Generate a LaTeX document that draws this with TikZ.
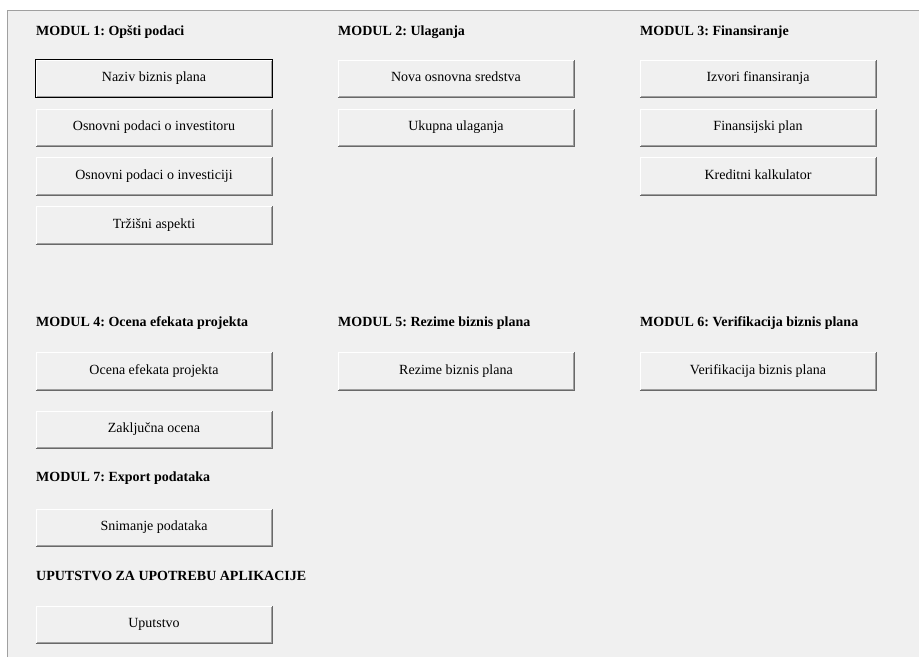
\documentclass[tikz,border=0pt]{standalone}
\usepackage{fontspec}
\setmainfont{Liberation Serif}
\frenchspacing
\definecolor{panel}{HTML}{F0F0F0}
\definecolor{rim}{HTML}{A0A0A0}
\definecolor{darkrim}{HTML}{696969}
\begin{document}
\begin{tikzpicture}[x=1pt, y=-1pt]
  \tikzstyle{button}=[rectangle, minimum width=236pt, minimum height=37pt, inner sep=0pt, text height=9.5pt, text depth=3pt, fill=panel, font=\fontsize{14}{16}\selectfont]
  \tikzstyle{heading}=[anchor=west, inner sep=0pt, text height=9.5pt, text depth=3pt, font=\fontsize{14}{16}\selectfont\bfseries]
  \tikzstyle{active}=[draw=black, line width=1.2pt]

  \useasboundingbox (0,0) rectangle (919,657);
  \fill[white] (0,0) rectangle (919,657);
  \fill[panel] (7,10) rectangle (919,657);
  \draw[rim] (7,657) -- (7,10) -- (919,10);

  \node[heading] (m1)  at (36,  32)  {MODUL 1: Opšti podaci};
  \node[heading] (m2)  at (338, 32)  {MODUL 2: Ulaganja};
  \node[heading] (m3)  at (640, 32)  {MODUL 3: Finansiranje};
  \node[heading] (m4)  at (36,  323) {MODUL 4: Ocena efekata projekta};
  \node[heading] (m5)  at (338, 323) {MODUL 5: Rezime biznis plana};
  \node[heading] (m6)  at (640, 323) {MODUL 6: Verifikacija biznis plana};
  \node[heading] (m7)  at (36,  478) {MODUL 7: Export podataka};
  \node[heading] (upu) at (36,  577) {UPUTSTVO ZA UPOTREBU APLIKACIJE};

  \node[button] (naziv)       at (154, 78.5)  {Naziv biznis plana};
  \node[button] (investitor)  at (154, 127.5) {Osnovni podaci o investitoru};
  \node[button] (investicija) at (154, 176)   {Osnovni podaci o investiciji};
  \node[button] (trziste)     at (154, 225)   {Tržišni aspekti};
  \node[button] (sredstva)    at (456, 78.5)  {Nova osnovna sredstva};
  \node[button] (ulaganja)    at (456, 127.5) {Ukupna ulaganja};
  \node[button] (izvori)      at (758, 78.5)  {Izvori finansiranja};
  \node[button] (finplan)     at (758, 127.5) {Finansijski plan};
  \node[button] (kredit)      at (758, 176)   {Kreditni kalkulator};
  \node[button] (ocena)       at (154, 371)   {Ocena efekata projekta};
  \node[button] (zakljucna)   at (154, 429.5) {Zaključna ocena};
  \node[button] (rezime)      at (456, 371)   {Rezime biznis plana};
  \node[button] (verif)       at (758, 371)   {Verifikacija biznis plana};
  \node[button] (snimanje)    at (154, 527.5) {Snimanje podataka};
  \node[button] (uputstvo)    at (154, 624.5) {Uputstvo};

  % raised edges
  \foreach \b in {naziv, investitor, investicija, trziste, sredstva, ulaganja,
                  izvori, finplan, kredit, ocena, zakljucna, rezime, verif,
                  snimanje, uputstvo} {
    \draw[white] (\b.south west) |- (\b.north east);
    \draw[darkrim] (\b.south west) -| (\b.north east);
    \draw[rim] ([xshift=1pt, yshift=1pt]\b.south west) -| ([xshift=-1pt, yshift=-1pt]\b.north east);
  }
  \draw[active] (naziv.south west) rectangle (naziv.north east);
\end{tikzpicture}
\end{document}
